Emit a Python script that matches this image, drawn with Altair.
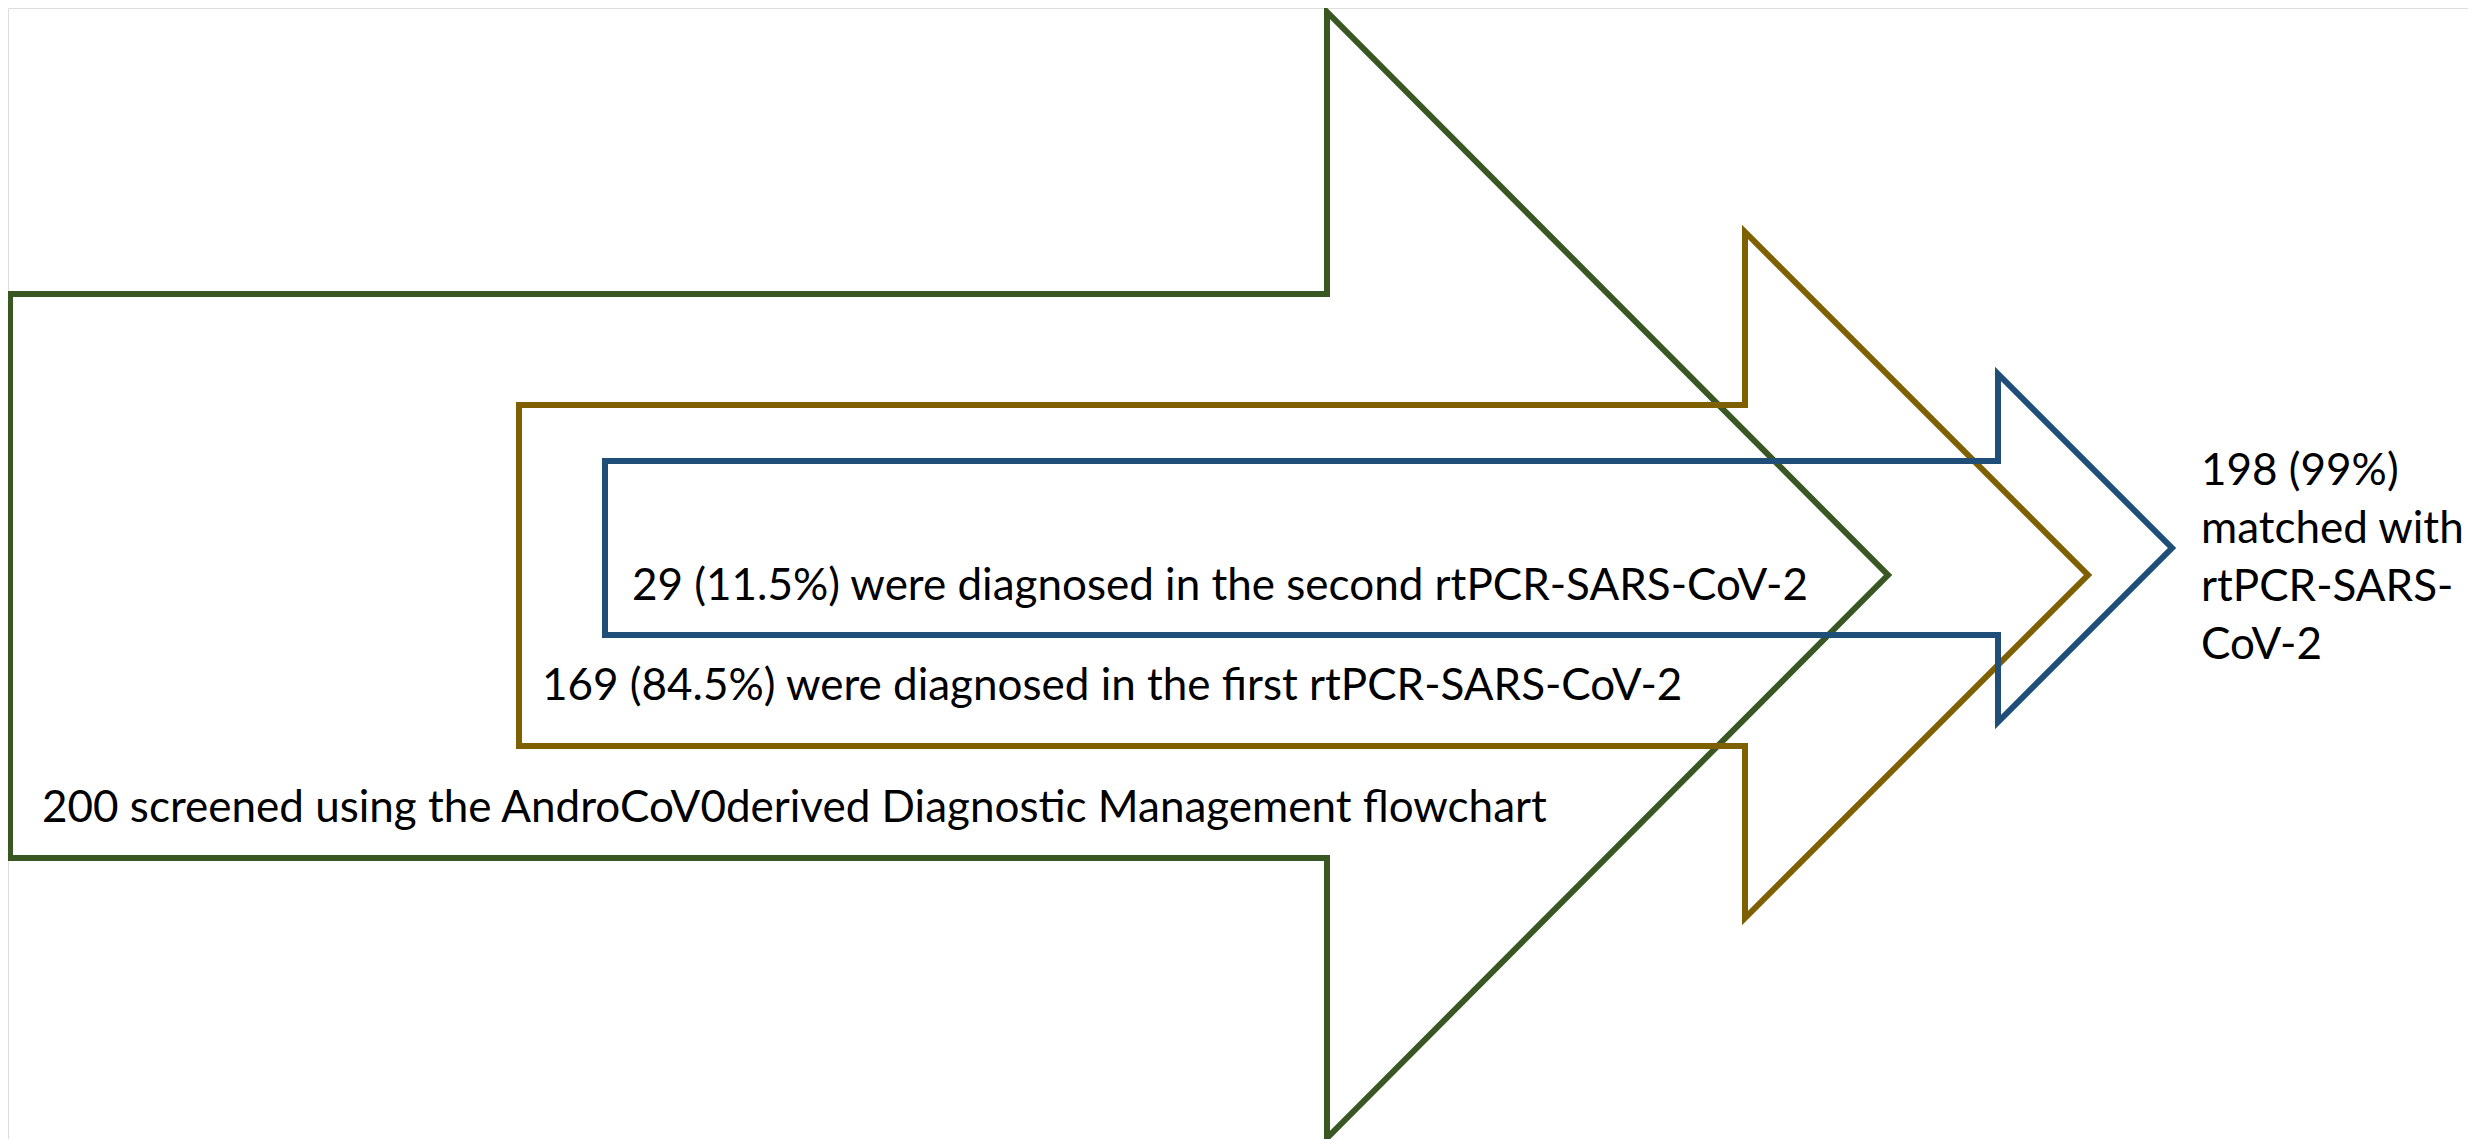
import altair as alt
import pandas as pd

# Arrow geometry (reference pixel units): shaft left, shaft top, shaft bottom,
# head base x, head top, head bottom, tip x
arrow_names = ["screened", "first", "second"]
shaft_left = [10, 519, 605]
shaft_top = [294, 405, 461]
shaft_bottom = [858, 746, 635]
head_x = [1327, 1745, 1998]
head_top = [12, 232, 374]
head_bottom = [1138, 918, 722]
tip_x = [1888, 2088, 2172]
arrow_colors = ["#385723", "#7F6000", "#1F4E79"]

# Labels
label_text = [
    "200 screened using the AndroCoV0derived Diagnostic Management flowchart",
    "169 (84.5%) were diagnosed in the first rtPCR-SARS-CoV-2",
    "29 (11.5%) were diagnosed in the second rtPCR-SARS-CoV-2",
]
label_x = [42, 542, 632]
label_y = [822, 700, 600]

result_lines = ["198 (99%)", "matched with", "rtPCR-SARS-", "CoV-2"]
result_x = [2201]
result_y = [485]

rows = []
for i, name in enumerate(arrow_names):
    mid = (shaft_top[i] + shaft_bottom[i]) / 2
    pts = [
        (shaft_left[i], mid),
        (shaft_left[i], shaft_top[i]),
        (head_x[i], shaft_top[i]),
        (head_x[i], head_top[i]),
        (tip_x[i], (head_top[i] + head_bottom[i]) / 2),
        (head_x[i], head_bottom[i]),
        (head_x[i], shaft_bottom[i]),
        (shaft_left[i], shaft_bottom[i]),
        (shaft_left[i], mid),
    ]
    for k, (x, y) in enumerate(pts):
        rows.append({"arrow": name, "k": k, "x": x, "y": y, "layer": i})
arrows_df = pd.DataFrame(rows)

labels_df = pd.DataFrame({"text": label_text, "x": label_x, "y": label_y})
result_df = pd.DataFrame({"x": result_x, "y": result_y, "text": [result_lines]})

xs = alt.Scale(domain=[8, 2468], nice=False, zero=False)
ys = alt.Scale(domain=[8, 1139], nice=False, zero=False, reverse=True)

layers = []
for i, name in enumerate(arrow_names):
    layers.append(
        alt.Chart(arrows_df[arrows_df.arrow == name])
        .mark_line(strokeWidth=6, strokeJoin="miter", strokeMiterLimit=10, color=arrow_colors[i], clip=False)
        .encode(
            x=alt.X("x:Q", scale=xs, axis=None),
            y=alt.Y("y:Q", scale=ys, axis=None),
            order="k:Q",
        )
    )

labels = alt.Chart(labels_df).mark_text(
    align="left", baseline="alphabetic", font="Lato", fontSize=44, color="black"
).encode(
    x=alt.X("x:Q", scale=xs, axis=None),
    y=alt.Y("y:Q", scale=ys, axis=None),
    text="text:N",
)

result = alt.Chart(result_df).mark_text(
    align="left", baseline="alphabetic", font="Lato", fontSize=44, color="black", lineHeight=58
).encode(
    x=alt.X("x:Q", scale=xs, axis=None),
    y=alt.Y("y:Q", scale=ys, axis=None),
    text="text",
)

chart = (
    alt.layer(*layers, labels, result)
    .properties(width=2460, height=1131, padding=0, autosize=alt.AutoSizeParams(type="none"))
    .configure_view(stroke=None)
    .configure(background="white")
)

chart.save("out.html", embed_options={"renderer": "svg", "actions": False})
